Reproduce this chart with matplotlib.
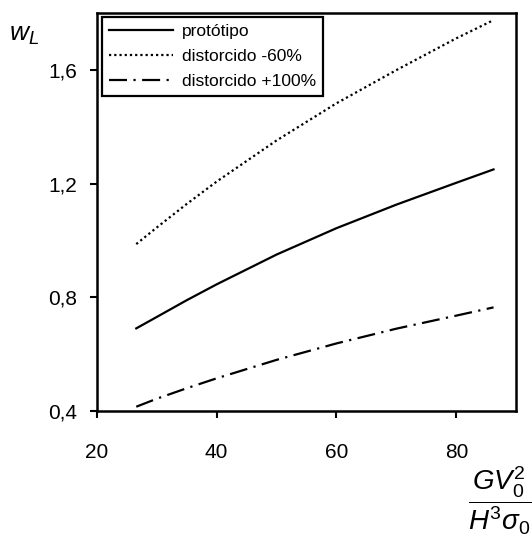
import matplotlib
matplotlib.use("Agg")
import matplotlib.pyplot as plt

plt.rcParams['font.family'] = ['Liberation Sans', 'DejaVu Sans']
plt.rcParams['mathtext.fontset'] = 'custom'
plt.rcParams['mathtext.rm'] = 'Liberation Sans'
plt.rcParams['mathtext.it'] = 'Liberation Sans:italic'

x_vals = [26.6, 30, 35, 40, 50, 60, 70, 80, 86.2]
prototipo = [0.690, 0.730, 0.789, 0.845, 0.950, 1.043, 1.126, 1.203, 1.250]
dist_m60 = [0.987, 1.045, 1.128, 1.207, 1.352, 1.483, 1.600, 1.712, 1.776]
dist_p100 = [0.414, 0.442, 0.479, 0.514, 0.579, 0.637, 0.689, 0.735, 0.764]

labels = ['protótipo', 'distorcido -60%', 'distorcido +100%']
x_ticks = [20, 40, 60, 80]
y_ticks = [0.4, 0.8, 1.2, 1.6]
y_ticklabels = ['0,4', '0,8', '1,2', '1,6']

fig = plt.figure(figsize=(5.32, 5.38), dpi=100)
ax = fig.add_axes([96.7/532, 1 - 410.7/538, (516.3-96.7)/532, (410.7-13.3)/538])

lw = 1.6
ax.plot(x_vals, prototipo, color='black', lw=lw, ls='-', label=labels[0])
ax.plot(x_vals, dist_m60, color='black', lw=lw, ls=(0, (1, 1.35)), label=labels[1])
ax.plot(x_vals, dist_p100, color='black', lw=lw, ls=(0, (8.1, 2.9, 1, 2.9)), label=labels[2])

ax.set_xlim(20, 90)
ax.set_ylim(0.4, 1.8)
ax.set_xticks(x_ticks)
ax.set_xticklabels([str(v) for v in x_ticks])
ax.set_yticks(y_ticks)
ax.set_yticklabels(y_ticklabels)
ax.tick_params(direction='out', length=5, width=1.5, labelsize=15, colors='black')
ax.tick_params(axis='x', pad=18)
ax.tick_params(axis='y', pad=9)
for s in ax.spines.values():
    s.set_linewidth(1.8)
    s.set_color('black')

leg = ax.legend(loc='upper left', bbox_to_anchor=(5.3/419.6, 1 - 4/397.4), fontsize=12.5,
                frameon=True, fancybox=False, edgecolor='black', framealpha=1,
                handlelength=3.7, borderpad=0.4, labelspacing=0.55, handletextpad=0.5,
                borderaxespad=0.0)
leg.get_frame().set_linewidth(1.6)

fig.text(9/532, 1 - 41/538, r'$w_L$', fontsize=19, ha='left', va='baseline')
fig.text(1.0, 1 - 501/538, r'$\dfrac{GV_0^2}{H^3\sigma_0}$', fontsize=20, ha='right', va='center')

fig.savefig('out.png', dpi=100)
